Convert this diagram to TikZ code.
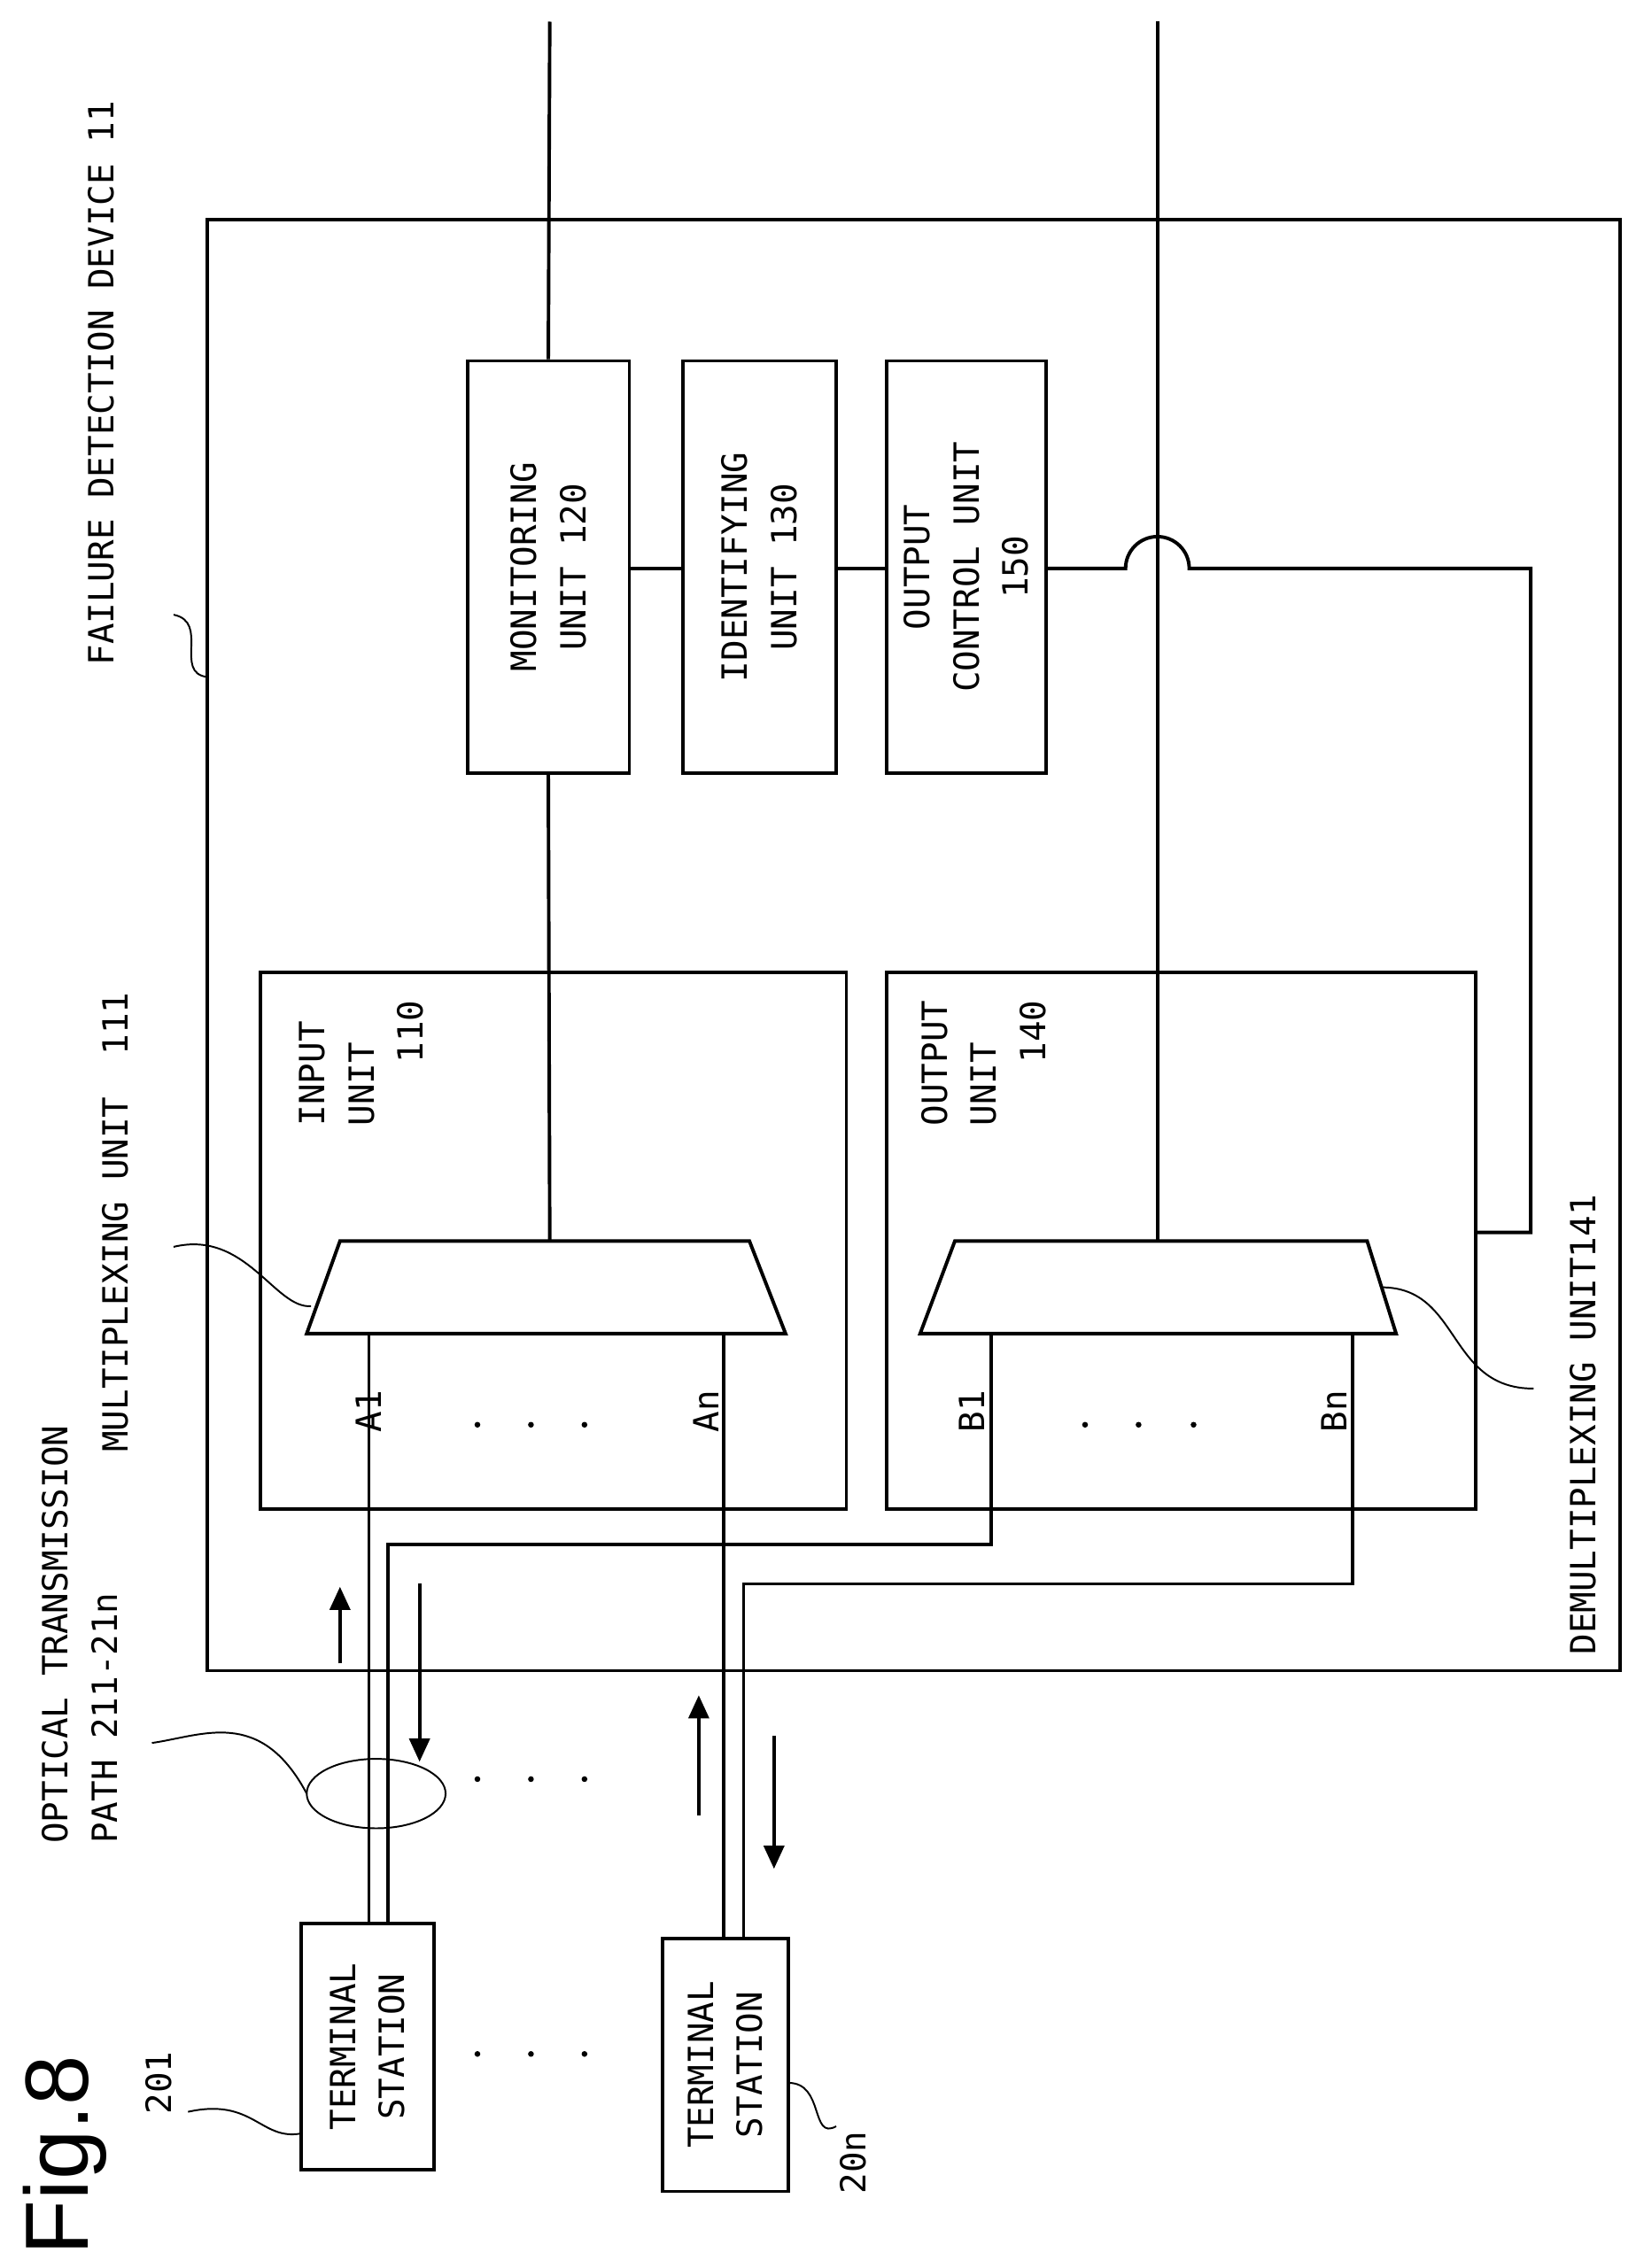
\documentclass[tikz,border=0pt]{standalone}
\usepackage{fontspec}
\setmainfont{DejaVu Sans Mono}
\newfontfamily\figfont{Liberation Sans}
\usetikzlibrary{arrows.meta}
\begin{document}
\begin{tikzpicture}[x=1pt,y=-1pt,line width=2.4pt,
  lbl/.style={rotate=90,font=\fontsize{24}{34}\selectfont,align=center,inner sep=0pt},
  box/.style={draw,line width=2.4pt},
  lead/.style={line width=1.2pt},
  arr/.style={line width=2.4pt,-{Triangle[length=16pt,width=14pt]}},
  dot/.style={circle,fill,inner sep=0pt,minimum size=4pt}]
\useasboundingbox (0,0) rectangle (1136,1568);
% outer device
\draw[box] (143,152) rectangle (1120,1155);
% units
\node[box,minimum width=112pt,minimum height=285pt] (mon) at (379,392) {};
\node[lbl] at (mon) {MONITORING\\UNIT 120};
\node[box,minimum width=106pt,minimum height=285pt] (idf) at (525,392) {};
\node[lbl] at (idf) {IDENTIFYING\\UNIT 130};
\node[box,minimum width=110pt,minimum height=285pt] (oc) at (668,392) {};
\node[lbl] at (oc) {OUTPUT\\CONTROL UNIT\\150};
\node[box,minimum width=405pt,minimum height=371pt] (inu) at (382.5,857.5) {};
\node[lbl,align=left] at (250,735) {INPUT\\UNIT\\\ \ \ 110};
\node[box,minimum width=407pt,minimum height=371pt] (outu) at (816.5,857.5) {};
\node[lbl,align=left] at (680,735) {OUTPUT\\UNIT\\\ \ \ 140};
% mux / demux
\draw[box] (235,858) coordinate (mux) -- (518,858) -- (543,922) -- (212,922) -- cycle;
\draw[box] (660,858) coordinate (dmx) -- (945,858) -- (965,922) -- (636,922) -- cycle;
% terminals
\node[box,minimum width=92pt,minimum height=170pt] (t1) at (254,1415) {};
\node[lbl] at (t1) {TERMINAL\\STATION};
\node[box,minimum width=87pt,minimum height=175pt] (tn) at (501.5,1427.5) {};
\node[lbl] at (tn) {TERMINAL\\STATION};
% vertical lines
\coordinate (top1) at (380,15); \coordinate (top2) at (800,15);
\draw (top1) -- (mon.north);
\draw (mon.south) -- (380,858);
\draw (top2) -- (800,858);
\draw (mon.east |- 0,393) -- (idf.west |- 0,393);
\draw (idf.east |- 0,393) -- (oc.west |- 0,393);
\draw (oc.east |- 0,393) -- (778,393) arc[start angle=180,end angle=360,radius=22] -- (1058,393) -- (1058,852) -- (outu.east |- 0,852);
% port labels
\node[lbl,anchor=east] at (255,960) {A1};
\node[lbl,anchor=east] at (488,960) {An};
\node[lbl,anchor=east] at (672,960) {B1};
\node[lbl,anchor=east] at (922,960) {Bn};
\draw (255,922) -- (255,1330);
\draw (268,1330) -- (268,1068) -- (685,1068) -- (685,922);
\draw (500,922) -- (500,1340);
\draw (514,1340) -- (514,1095) -- (935,1095) -- (935,922);
% arrows
\draw[arr] (235,1150) -- (235,1097);
\draw[arr] (290,1095) -- (290,1218);
\draw[arr] (483,1255) -- (483,1172);
\draw[arr] (535,1200) -- (535,1292);
% dots
\foreach \x in {330,367,404}{\node[dot] at (\x,985) {}; \node[dot] at (\x,1230) {}; \node[dot] at (\x,1420) {};}
\foreach \x in {750,787,825}{\node[dot] at (\x,985) {};}
% ellipse and leaders
\draw[lead] (260,1240) ellipse [x radius=48pt,y radius=24pt];
\draw[lead] (212,1240) .. controls (180,1180) and (140,1200) .. (105,1205);
\node[lbl,align=left] at (55,1130) {OPTICAL TRANSMISSION\\PATH 211-21n};
\node[rotate=90,font=\figfont\fontsize{62}{62}\selectfont,inner sep=0pt] at (45,1490) {Fig.8};
\node[lbl] at (110,1440) {201};
\draw[lead] (130,1460) .. controls (175,1450) and (180,1480) .. (208,1475);
\node[lbl] at (590,1495) {20n};
\draw[lead] (545,1440) .. controls (570,1440) and (560,1480) .. (578,1470);
\node[lbl] at (80,845) {MULTIPLEXING UNIT\ \ 111};
\draw[lead] (120,862) .. controls (170,850) and (190,905) .. (215,903);
\node[lbl] at (1094,985) {DEMULTIPLEXING UNIT141};
\draw[lead] (955,890) .. controls (1010,890) and (1000,960) .. (1060,960);
\node[lbl] at (70,265) {FAILURE DETECTION DEVICE 11};
\draw[lead] (120,425) .. controls (145,430) and (120,465) .. (143,468);
\end{tikzpicture}
\end{document}
